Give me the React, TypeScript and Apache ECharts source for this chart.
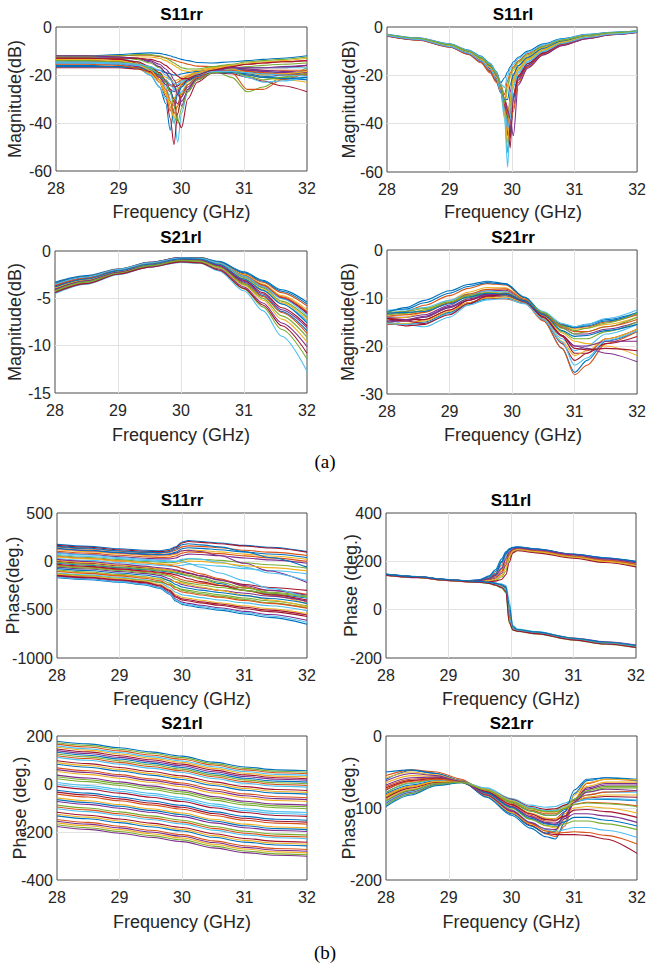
import React, { useEffect, useRef } from "react";
import * as echarts from "echarts";

// MATLAB default line colour order
const COLORS = ["#0072BD", "#D95319", "#EDB120", "#7E2F8E", "#77AC30", "#4DBEEE", "#A2142F"];

const TITLES = ["S11rr", "S11rl", "S21rl", "S21rr", "S11rr", "S11rl", "S21rl", "S21rr"];
const Y_NAMES = [
  "Magnitude(dB)", "Magnitude(dB)", "Magnitude(dB)", "Magnitude(dB)",
  "Phase(deg.)", "Phase (deg.)", "Phase (deg.)", "Phase (deg.)",
];
const X_NAME = "Frequency (GHz)";
const Y_MIN = [-60, -60, -15, -30, -1000, -200, -400, -200];
const Y_MAX = [0, 0, 0, 0, 500, 400, 200, 0];
const Y_STEP = [20, 20, 5, 10, 500, 200, 200, 100];
const X_MIN = 28;
const X_MAX = 32;
const X_STEP = 1;

// ---- (a) S11rr magnitude ----
const F_S11RR_MAG = [28, 28.5, 29, 29.3, 29.5, 29.65, 29.75, 29.82, 29.88, 29.94, 30.0, 30.1, 30.25, 30.5, 30.8, 31.05, 31.3, 31.6, 32];
const S11RR_MAG = [
  [-12, -12, -11.5, -11, -10.8, -11, -11.5, -12, -12.5, -13, -13.5, -14, -14.8, -15, -14.5, -14, -13.5, -13, -12],
  [-13, -12.5, -12, -11.8, -11.8, -12.3, -12.8, -13.3, -13.8, -14.3, -14.8, -15.5, -16.3, -16.5, -16, -15.5, -15, -14.5, -14],
  [-14, -14, -14.5, -15.5, -17, -19, -21, -22, -22.5, -22, -21, -20, -18.5, -17, -17, -18, -19, -19.5, -19],
  [-15, -15, -15.5, -16.5, -18.5, -21, -24, -26, -27, -26, -24, -22, -20, -18, -18, -20, -21, -20, -18],
  [-13, -13, -13.5, -15, -17.5, -22, -27, -33, -40, -36, -29, -24, -20.5, -18, -21, -27, -25, -21, -17],
  [-12, -12.5, -13, -14.5, -17, -20.5, -25, -30, -38, -48, -36, -27, -22, -19, -18, -19, -20, -21, -22],
  [-14, -14, -14.5, -16, -18.5, -23, -29, -38, -49, -36, -29, -24, -21, -18.5, -18, -17, -17, -17, -16],
  [-15, -15, -15.5, -17, -20, -25, -32, -43, -34, -28, -25, -22, -20, -18, -17.5, -18, -18.5, -19, -20],
  [-13, -13, -13.5, -15, -18, -22, -28, -35, -31, -27, -24, -21.5, -19.5, -17.5, -17, -17.5, -18, -18, -18],
  [-16, -16, -16.5, -17.5, -19.5, -23, -28, -33, -38, -32, -27, -23, -20.5, -18.5, -18, -19.5, -21, -22, -23],
  [-14, -14.5, -15, -16, -18, -21, -24, -27, -30, -32, -29, -25, -21.5, -19, -18, -18, -18.5, -19, -19],
  [-12, -12, -12.5, -13.5, -15, -17, -19, -21, -24, -27, -28, -26, -22, -18.5, -17, -16.5, -16, -15.5, -15],
  [-15, -15, -15.5, -17, -20, -25, -30, -28, -26, -24, -22.5, -21, -19.5, -18, -17.5, -17, -17, -17, -17],
  [-17, -17, -17, -17.5, -18.5, -20, -22, -24, -25, -24.5, -23.5, -22, -20.5, -19, -19.5, -21, -22.5, -24.5, -27],
  [-16, -16, -16.5, -17, -17.5, -18, -19, -19.5, -20, -20, -19.5, -19, -18.5, -18, -18.5, -19.5, -20.5, -21.5, -22],
  [-14, -14, -14.5, -16, -18, -20.5, -23, -24.5, -24, -23, -22, -20.5, -19, -17.5, -19, -26, -26, -22, -19],
  [-13.5, -13.5, -13, -12.5, -12.5, -13, -14, -15, -16, -17, -18, -18.5, -18, -17, -16, -15, -14.5, -14, -13],
  [-12.5, -12.5, -12.5, -13, -14, -15.5, -17.5, -19.5, -22, -25, -33, -26, -21, -18, -17, -17.5, -18, -18.5, -19],
  [-12.5, -12.5, -12, -11.5, -11.5, -12, -13, -14, -15, -16, -17, -17.5, -17.5, -16.5, -15.5, -14.5, -14, -13.5, -12.5],
  [-14.5, -14.5, -15, -16, -17.5, -19.5, -22, -24, -26, -28, -27, -24, -21, -18.5, -18.5, -21, -23, -22.5, -21],
  [-13, -13, -13.5, -14.5, -16.5, -19, -22.5, -26, -31, -39, -42, -30, -23, -19, -18, -18.5, -19.5, -20, -20],
  [-16.5, -16.5, -16.5, -17, -18, -20, -23, -27, -30, -28, -25, -22.5, -20.5, -19, -19, -20, -21, -21.5, -21],
  [-15.5, -15.5, -16, -17, -19, -22, -26, -31, -36, -33, -28, -24, -21, -18.5, -18, -18.5, -19, -19.5, -20],
  [-13.5, -13.5, -14, -15.5, -18, -22, -27, -32, -30, -26, -23.5, -21, -19, -17.5, -17.5, -19, -20, -19.5, -18.5],
  [-12, -12, -12.5, -13, -14.5, -16.5, -19, -21.5, -24.5, -28, -31, -27, -22, -18.5, -17, -17, -17, -16.5, -16],
  [-14, -14, -14.5, -15.5, -17, -19.5, -23, -27, -33, -40, -34, -27, -22, -19, -18.5, -20.5, -22, -21, -19.5],
  [-15, -15, -15, -15.5, -16.5, -18, -20, -22, -23.5, -24, -23, -21.5, -20, -18.5, -18.5, -19, -19.5, -20, -20.5],
  [-13, -13, -13, -13, -13.5, -14.5, -16, -17.5, -19, -20.5, -21.5, -21.5, -20, -18, -16.5, -15.5, -15, -14.5, -14],
];

// ---- (a) S11rl magnitude ----
const F_S11RL_MAG = [28, 28.5, 29, 29.3, 29.5, 29.65, 29.75, 29.82, 29.88, 29.93, 29.97, 30.02, 30.1, 30.25, 30.5, 30.8, 31.2, 31.6, 32];
const S11RL_MAG = [
  [-3, -4.5, -7, -9.5, -12, -15, -18.5, -23, -21, -18.5, -16.5, -14.5, -12.5, -10, -7, -4.8, -3, -2.2, -1.6],
  [-3.2, -4.7, -7.2, -9.8, -12.5, -15.5, -19, -24, -28, -22, -19, -16.5, -14, -11, -7.8, -5.2, -3.3, -2.4, -1.7],
  [-3.3, -4.8, -7.4, -10, -12.8, -16, -20, -25, -33, -26, -21, -18, -15, -12, -8.5, -5.6, -3.6, -2.5, -1.8],
  [-3.4, -5, -7.6, -10.3, -13.2, -16.5, -20.5, -26, -34, -45, -27, -20, -16, -12.8, -9, -6, -3.8, -2.7, -1.9],
  [-3.5, -5.1, -7.8, -10.6, -13.5, -17, -21, -27, -36, -52, -33, -22, -17.5, -13.5, -9.5, -6.3, -4, -2.8, -2],
  [-3.6, -5.2, -8, -10.8, -13.8, -17.5, -21.5, -27.5, -38, -58, -36, -24, -18.5, -14.2, -10, -6.6, -4.2, -2.9, -2],
  [-3.5, -5.2, -8, -10.9, -14, -18, -22, -27, -33, -40, -50, -28, -20, -15, -10.5, -7, -4.4, -3, -2.1],
  [-3.7, -5.4, -8.2, -11.2, -14.4, -18.5, -22.5, -27, -31, -35, -44, -30, -21, -15.8, -11, -7.3, -4.6, -3.1, -2.2],
  [-3.8, -5.5, -8.3, -11.4, -14.8, -19, -23, -27, -30, -33, -36, -28, -21.5, -16.5, -11.5, -7.6, -4.8, -3.2, -2.3],
  [-3.3, -4.9, -7.5, -10.2, -13, -16.2, -20, -24, -29, -38, -30, -23, -18, -13.5, -9.5, -6.4, -4, -2.8, -2],
  [-3.6, -5.3, -8.1, -11, -14.2, -18, -22, -26, -30, -34, -42, -33, -22, -16, -11, -7.2, -4.5, -3, -2.1],
  [-3.4, -5, -7.7, -10.5, -13.5, -17, -21, -26, -30, -40, -31, -21, -17, -13, -9.2, -6.2, -3.9, -2.7, -1.9],
  [-3.1, -4.6, -7.1, -9.6, -12.2, -15.2, -18.8, -23.5, -25, -20, -17.5, -15.5, -13, -10.5, -7.4, -5, -3.1, -2.3, -1.6],
  [-3.5, -5.1, -7.9, -10.7, -13.7, -17.2, -21.2, -26.5, -32, -37, -46, -29, -20.5, -15.2, -10.7, -7.1, -4.5, -3, -2.1],
  [-3.3, -4.9, -7.5, -10.1, -12.9, -16.1, -19.8, -24.5, -30, -30, -24, -19.5, -16, -12.5, -8.8, -5.8, -3.7, -2.6, -1.8],
  [-3.7, -5.4, -8.2, -11.1, -14.3, -18.2, -22.2, -26.8, -31, -36, -40, -35, -23, -16.5, -11.3, -7.5, -4.7, -3.1, -2.2],
  [-3.4, -5, -7.7, -10.4, -13.3, -16.8, -20.8, -26, -35, -48, -30, -21.5, -17, -13.2, -9.3, -6.2, -3.9, -2.7, -1.9],
  [-3.6, -5.3, -8.1, -11, -14.1, -17.8, -21.8, -26.5, -30.5, -34.5, -38, -45, -24, -17, -11.6, -7.7, -4.8, -3.2, -2.3],
  [-3.2, -4.7, -7.3, -9.9, -12.6, -15.7, -19.4, -24.5, -31, -24, -20, -17.2, -14.5, -11.5, -8.1, -5.4, -3.4, -2.4, -1.7],
  [-3.5, -5.2, -8, -10.8, -13.9, -17.6, -21.6, -27, -34, -42, -38, -25, -19, -14.6, -10.2, -6.8, -4.3, -2.9, -2],
];

// ---- (a) S21rl magnitude ----
const F_S21RL_MAG = [28, 28.5, 29, 29.5, 30, 30.3, 30.6, 31, 31.3, 31.6, 32];
const S21RL_MAG = [
  [-3.3, -2.6, -1.9, -1.2, -0.7, -0.7, -1.1, -2.2, -3.1, -4.1, -5.4],
  [-3.4, -2.7, -1.9, -1.2, -0.7, -0.7, -1.2, -2.4, -3.3, -4.4, -5.8],
  [-3.6, -2.8, -2, -1.3, -0.75, -0.75, -1.2, -2.5, -3.5, -4.7, -6.2],
  [-3.5, -2.8, -2, -1.2, -0.7, -0.8, -1.3, -2.7, -3.8, -5, -6.6],
  [-3.8, -3, -2.1, -1.4, -0.8, -0.8, -1.3, -2.8, -3.9, -5.3, -7],
  [-3.9, -3, -2.2, -1.4, -0.85, -0.9, -1.4, -3, -4.2, -5.6, -7.4],
  [-4, -3.1, -2.2, -1.5, -0.9, -0.9, -1.5, -3.1, -4.4, -6, -7.9],
  [-4.1, -3.2, -2.3, -1.5, -0.9, -1, -1.6, -3.3, -4.7, -6.4, -8.4],
  [-4.2, -3.3, -2.3, -1.6, -1, -1, -1.6, -3.4, -4.8, -6.5, -8.7],
  [-4.3, -3.3, -2.4, -1.6, -1, -1.1, -1.8, -3.6, -5.2, -7.2, -9.6],
  [-4.4, -3.4, -2.4, -1.7, -1.1, -1.2, -1.9, -3.8, -5.5, -7.6, -10.1],
  [-4.3, -3.3, -2.4, -1.6, -1.1, -1.2, -2, -4, -5.9, -8.3, -11.4],
  [-4.5, -3.5, -2.5, -1.7, -1.2, -1.3, -2.1, -4.2, -6.3, -9, -12.7],
  [-3.7, -2.9, -2, -1.3, -0.8, -0.8, -1.3, -2.6, -3.6, -4.9, -6.5],
  [-3.4, -2.7, -1.95, -1.25, -0.72, -0.72, -1.15, -2.3, -3.2, -4.25, -5.6],
  [-3.6, -2.85, -2.05, -1.3, -0.78, -0.78, -1.25, -2.6, -3.65, -4.85, -6.4],
  [-3.9, -3.05, -2.15, -1.45, -0.85, -0.85, -1.35, -2.9, -4.05, -5.45, -7.2],
  [-4.1, -3.15, -2.25, -1.5, -0.92, -0.95, -1.55, -3.2, -4.55, -6.2, -8.1],
  [-4.2, -3.25, -2.35, -1.55, -0.98, -1.05, -1.7, -3.5, -5, -6.85, -9.1],
  [-3.5, -2.75, -1.95, -1.25, -0.75, -0.78, -1.25, -2.65, -3.75, -5.05, -6.8],
  [-4.4, -3.45, -2.45, -1.7, -1.15, -1.25, -2, -3.95, -5.7, -7.9, -10.8],
  [-3.8, -2.95, -2.1, -1.4, -0.82, -0.85, -1.4, -2.95, -4.15, -5.6, -7.6],
];

// ---- (a) S21rr magnitude ----
const F_S21RR_MAG = [28, 28.3, 28.6, 29, 29.3, 29.6, 29.9, 30.2, 30.5, 30.8, 31, 31.2, 31.5, 32];
const S21RR_MAG = [
  [-13, -12, -10.5, -8.5, -7.2, -6.5, -7, -9.8, -13.2, -15.5, -16, -15.5, -14.5, -13],
  [-13.5, -12.8, -11.5, -9.5, -8, -7, -7.3, -10, -13.4, -15.6, -16.3, -16, -15, -13.5],
  [-14, -13.5, -12.5, -10.5, -8.8, -7.8, -7.9, -10.2, -13.3, -15.8, -16.5, -16.3, -15.5, -14],
  [-14, -14, -13.5, -11.5, -9.5, -8.5, -8.4, -10.4, -13.6, -16.2, -17.5, -17.5, -16.5, -15],
  [-14.5, -14.5, -14, -12, -10, -8.8, -8.7, -10.5, -13.8, -17, -18.5, -18.5, -17, -15],
  [-14, -15.5, -16, -14, -11.5, -9.5, -9.1, -10.6, -14.2, -18.5, -21, -20, -17.5, -15.5],
  [-15, -15.8, -15.5, -13, -11, -9.8, -9.5, -10.8, -14.4, -19.5, -23, -21.5, -18.5, -16.5],
  [-15, -15.5, -15, -13, -11.2, -10.2, -10, -11, -14.6, -20.5, -25.5, -23, -19, -17],
  [-15.5, -15.5, -14.5, -12.5, -11, -10, -10.2, -11.1, -14.8, -20.5, -26, -24, -19.5, -17],
  [-14.5, -14, -13, -11, -9.5, -8.8, -9, -10.6, -13.8, -17.3, -19, -19.5, -20, -22],
  [-15, -14.8, -14, -12, -10.5, -9.5, -9.5, -10.9, -14.1, -17.8, -20, -20.5, -21.5, -23.3],
  [-13.5, -13.2, -12.5, -11, -9.8, -9.2, -9.4, -10.7, -13.2, -16.3, -17.5, -17, -16, -14],
  [-12.5, -12.5, -12, -10.5, -9.2, -8.5, -8.8, -10.5, -12.8, -15.3, -16, -15.5, -14.3, -12.5],
  [-14.2, -14.5, -14.5, -12.5, -10.5, -9.2, -9, -10.6, -14, -18, -21.5, -21.5, -19.5, -18],
  [-12.8, -12.3, -11, -9, -7.6, -6.8, -7.1, -9.9, -13.3, -15.7, -16.2, -15.8, -14.8, -13.2],
  [-13.8, -13.5, -13, -11, -9.2, -8.2, -8.1, -10.3, -13.4, -16, -17, -17, -16, -14.5],
  [-15.2, -15.3, -14.8, -12.8, -11, -9.9, -9.8, -10.9, -14.3, -19, -22, -21, -18.5, -16.5],
  [-14.8, -14.5, -13.8, -11.8, -10.2, -9.3, -9.3, -10.8, -14, -17.8, -20, -20, -19, -19],
  [-13, -12.8, -12.2, -10.8, -9.5, -8.9, -9.1, -10.6, -13, -15.8, -16.8, -16.3, -15.2, -13.2],
  [-15.3, -15.5, -15.2, -13.2, -11.5, -10.4, -10.1, -11.2, -14.5, -19.2, -24, -22.5, -18.8, -16.8],
  [-14.3, -14.8, -15.3, -13.5, -11.2, -9.6, -9.2, -10.6, -13.9, -17.8, -20.5, -20.8, -20.5, -21],
  [-13.2, -13, -12.8, -11.2, -9.8, -9, -9.2, -10.6, -13.5, -16.8, -18, -17.8, -16.8, -15.5],
];

// ---- (b) S11rr phase ----
const F_S11RR_PH = [28, 28.5, 29, 29.4, 29.65, 29.8, 29.9, 30.0, 30.1, 30.3, 30.6, 31, 31.4, 32];
const S11RR_PH = [
  [175, 155, 130, 115, 110, 125, 150, 200, 215, 205, 190, 165, 145, 100],
  [150, 128, 105, 90, 85, 95, 115, 150, 160, 155, 140, 115, 95, 60],
  [120, 100, 78, 62, 55, 60, 75, 105, 118, 112, 98, 75, 55, 20],
  [90, 70, 48, 32, 25, 25, 35, 60, 75, 70, 58, 35, 15, -20],
  [60, 40, 18, 0, -10, -15, -10, 10, 25, 22, 10, -15, -35, -70],
  [30, 10, -12, -30, -42, -50, -50, -40, -30, -35, -50, -75, -95, -130],
  [0, -20, -45, -65, -80, -90, -100, -112, -125, -150, -190, -240, -270, -300],
  [-20, -40, -65, -85, -100, -110, -120, -135, -150, -180, -230, -300, -340, -380],
  [50, 30, 5, -15, -30, -40, -55, -75, -95, -130, -180, -260, -330, -420],
  [10, -12, -38, -60, -78, -90, -105, -125, -145, -185, -245, -300, -350, -440],
  [-60, -80, -105, -125, -145, -180, -215, -240, -255, -275, -300, -330, -360, -410],
  [-90, -110, -135, -160, -185, -225, -265, -290, -300, -320, -345, -380, -410, -460],
  [-120, -140, -165, -190, -220, -270, -320, -345, -355, -375, -400, -430, -460, -510],
  [-150, -170, -195, -220, -255, -310, -370, -400, -410, -430, -455, -490, -520, -570],
  [-170, -190, -215, -245, -280, -340, -410, -445, -460, -480, -505, -545, -580, -650],
  [-40, -60, -85, -105, -120, -140, -165, -190, -205, -225, -250, -275, -300, -340],
  [-100, -120, -145, -165, -180, -195, -210, -225, -240, -265, -300, -350, -400, -470],
  [130, 110, 88, 72, 65, 70, 85, 110, 115, 100, 60, -20, -100, -220],
  [-130, -150, -175, -195, -215, -240, -270, -300, -315, -335, -360, -395, -430, -480],
  [70, 50, 28, 10, 0, -5, 0, 20, 30, 20, -10, -60, -120, -200],
  [165, 145, 120, 105, 100, 112, 140, 190, 205, 196, 182, 158, 138, 95],
  [135, 114, 92, 77, 70, 78, 95, 130, 140, 134, 120, 96, 76, 40],
  [105, 85, 63, 47, 40, 42, 55, 85, 98, 92, 80, 56, 36, 0],
  [45, 25, 3, -15, -26, -32, -28, -12, 2, 0, -18, -45, -65, -100],
  [20, -2, -28, -50, -66, -76, -88, -102, -118, -150, -195, -250, -300, -350],
  [-10, -32, -58, -78, -93, -103, -114, -128, -143, -170, -215, -275, -320, -360],
  [85, 65, 40, 22, 10, 5, 0, -5, -20, -60, -120, -200, -280, -380],
  [-30, -52, -78, -98, -113, -125, -140, -160, -180, -210, -250, -300, -345, -400],
  [-75, -95, -120, -142, -165, -202, -240, -265, -278, -298, -322, -355, -385, -435],
  [-105, -125, -150, -175, -202, -248, -292, -318, -328, -348, -372, -405, -435, -485],
  [-135, -155, -180, -205, -238, -290, -345, -372, -382, -402, -428, -460, -490, -540],
  [-160, -180, -205, -232, -268, -325, -390, -422, -435, -455, -480, -518, -550, -610],
  [-50, -70, -95, -115, -132, -155, -185, -210, -225, -245, -270, -300, -330, -370],
  [-165, -185, -210, -238, -274, -332, -400, -435, -448, -468, -492, -530, -565, -630],
  [-145, -165, -190, -214, -248, -300, -358, -388, -398, -418, -442, -475, -505, -555],
  [155, 135, 110, 95, 90, 102, 128, 172, 182, 170, 150, 100, 40, -60],
];

// ---- (b) S11rl phase ----
const F_S11RL_PH = [28, 28.5, 29, 29.3, 29.5, 29.65, 29.75, 29.85, 29.92, 29.97, 30.03, 30.1, 30.4, 31, 31.5, 32];
const S11RL_PH = [
  [147, 137, 125, 120, 125, 140, 165, 210, 240, 252, 258, 260, 252, 230, 215, 200],
  [146, 136, 124, 119, 122, 132, 150, 185, 225, 245, 255, 257, 250, 228, 212, 197],
  [145, 135, 123, 118, 120, 127, 140, 165, 205, 235, 250, 254, 246, 225, 208, 192],
  [144, 134, 122, 117, 118, 122, 130, 150, 185, 225, 245, 250, 242, 220, 203, 187],
  [143, 133, 121, 116, 116, 118, 122, 135, 160, 210, 240, 247, 238, 216, 198, 180],
  [145, 135, 123, 118, 119, 124, 135, 175, 220, 242, 252, 255, 248, 226, 210, 195],
  [142, 132, 120, 115, 115, 116, 118, 125, 145, 195, 235, 244, 235, 213, 195, 177],
  [146, 136, 124, 119, 121, 129, 145, 195, 232, 248, 256, 258, 251, 229, 214, 199],
  [145, 135, 123, 118, 116, 112, 108, 100, 90, -20, -78, -85, -95, -120, -137, -150],
  [144, 134, 122, 117, 114, 110, 104, 95, 80, -40, -82, -88, -98, -124, -141, -154],
  [146, 136, 124, 119, 117, 114, 110, 105, 95, 0, -75, -83, -93, -117, -133, -146],
  [143, 133, 121, 116, 113, 108, 100, 90, 70, -55, -85, -90, -100, -126, -143, -157],
  [145, 135, 123, 118, 116, 113, 110, 106, 100, 40, -65, -80, -91, -119, -136, -149],
  [144, 134, 122, 117, 115, 111, 106, 98, 85, -30, -80, -87, -97, -122, -139, -152],
  [146, 136, 124, 119, 123, 136, 158, 200, 236, 250, 257, 259, 251, 229, 213, 198],
  [144, 134, 122, 117, 119, 125, 135, 158, 195, 230, 248, 252, 244, 222, 205, 189],
  [143, 133, 121, 116, 117, 120, 126, 142, 172, 218, 243, 249, 240, 218, 200, 183],
  [145, 135, 123, 118, 120, 128, 142, 170, 212, 238, 251, 255, 247, 227, 210, 194],
  [145, 135, 123, 118, 116, 112, 107, 97, 85, -10, -77, -84, -94, -119, -136, -150],
  [144, 134, 122, 117, 115, 111, 105, 96, 82, -35, -81, -87, -97, -123, -140, -153],
  [143, 133, 121, 116, 114, 109, 102, 92, 75, -50, -84, -89, -99, -125, -142, -156],
  [146, 136, 124, 119, 117, 113, 109, 103, 92, 20, -70, -82, -92, -118, -134, -148],
];

// ---- (b) S21rl phase ----
const F_S21RL_PH = [28, 28.5, 29, 29.5, 30, 30.5, 31, 31.5, 32];
const S21RL_PH = [
  [178, 167, 151, 134, 116, 91, 71, 59, 55],
  [166, 154, 138, 121, 103, 79, 59, 47, 43],
  [153, 141, 125, 108, 90, 65, 45, 33, 29],
  [139, 127, 111, 94, 76, 51, 31, 20, 16],
  [125, 113, 97, 80, 62, 37, 17, 5, 1],
  [111, 99, 83, 66, 48, 23, 3, -9, -13],
  [97, 85, 69, 52, 34, 9, -11, -23, -27],
  [82, 70, 54, 37, 19, -6, -26, -38, -42],
  [67, 55, 39, 22, 4, -21, -41, -53, -57],
  [52, 40, 24, 7, -11, -37, -57, -69, -73],
  [37, 25, 9, -8, -26, -52, -72, -84, -88],
  [22, 10, -6, -23, -41, -67, -87, -99, -103],
  [6, -6, -22, -39, -57, -83, -103, -115, -119],
  [-10, -22, -38, -55, -73, -99, -119, -131, -135],
  [-26, -38, -54, -71, -89, -115, -135, -147, -151],
  [-42, -54, -70, -87, -105, -131, -151, -163, -167],
  [-58, -70, -86, -103, -121, -147, -167, -179, -183],
  [-73, -85, -101, -118, -136, -162, -182, -194, -198],
  [-88, -100, -116, -133, -151, -177, -197, -209, -213],
  [-103, -115, -131, -148, -166, -192, -212, -224, -228],
  [-118, -130, -146, -163, -181, -207, -227, -239, -243],
  [-133, -145, -161, -178, -196, -222, -242, -254, -258],
  [-148, -160, -176, -193, -211, -237, -257, -269, -273],
  [-162, -174, -190, -207, -225, -251, -271, -283, -287],
  [-177, -189, -205, -222, -240, -266, -286, -297, -301],
  [172, 161, 145, 128, 110, 85, 65, 53, 49],
  [159, 147, 131, 114, 96, 72, 52, 40, 36],
  [146, 134, 118, 101, 83, 58, 38, 26, 22],
  [132, 120, 104, 87, 69, 44, 24, 12, 8],
  [118, 106, 90, 73, 55, 30, 10, -2, -6],
  [89, 77, 61, 44, 26, 1, -19, -31, -35],
  [60, 48, 32, 15, -3, -29, -49, -61, -65],
  [30, 18, 2, -15, -33, -59, -79, -91, -95],
  [-2, -14, -30, -47, -65, -91, -111, -123, -127],
  [-34, -46, -62, -79, -97, -123, -143, -155, -159],
  [-65, -77, -93, -110, -128, -154, -174, -186, -190],
  [-96, -108, -124, -141, -159, -185, -205, -217, -221],
  [-126, -138, -154, -171, -189, -215, -235, -247, -251],
  [-155, -167, -183, -200, -218, -244, -264, -276, -280],
  [-170, -182, -198, -215, -233, -259, -279, -291, -295],
];

// ---- (b) S21rr phase ----
const F_S21RR_PH = [28, 28.4, 28.8, 29.2, 29.6, 30, 30.3, 30.55, 30.7, 30.85, 31, 31.2, 31.5, 32];
const S21RR_PH = [
  [-60, -48, -52, -62, -85, -110, -128, -140, -143, -120, -80, -62, -58, -60],
  [-55, -47, -50, -60, -82, -107, -124, -136, -140, -125, -88, -66, -60, -62],
  [-65, -55, -56, -63, -80, -100, -115, -125, -128, -118, -88, -70, -64, -64],
  [-75, -62, -58, -62, -76, -95, -108, -115, -115, -105, -88, -74, -68, -68],
  [-85, -70, -62, -63, -74, -90, -100, -104, -103, -96, -88, -78, -72, -72],
  [-95, -80, -68, -64, -72, -87, -96, -99, -98, -93, -88, -82, -78, -78],
  [-90, -76, -66, -64, -74, -88, -98, -102, -101, -96, -90, -86, -84, -85],
  [-80, -68, -62, -64, -76, -93, -104, -110, -110, -102, -92, -88, -88, -90],
  [-70, -60, -58, -63, -78, -96, -110, -118, -118, -108, -95, -92, -93, -97],
  [-88, -74, -65, -64, -76, -94, -107, -114, -115, -108, -100, -98, -100, -107],
  [-93, -78, -67, -64, -78, -98, -112, -120, -121, -115, -108, -108, -111, -120],
  [-96, -80, -68, -65, -80, -100, -116, -124, -126, -122, -118, -118, -122, -130],
  [-78, -66, -61, -63, -80, -102, -120, -130, -133, -130, -127, -127, -131, -141],
  [-72, -62, -59, -63, -82, -105, -124, -135, -137, -137, -137, -138, -143, -163],
  [-50, -47, -52, -62, -84, -108, -125, -135, -132, -105, -75, -60, -58, -62],
  [-82, -70, -63, -64, -75, -92, -103, -108, -108, -100, -90, -82, -78, -76],
  [-58, -50, -54, -62, -83, -106, -122, -132, -134, -112, -82, -65, -60, -61],
  [-68, -58, -57, -63, -79, -98, -112, -121, -123, -112, -90, -72, -66, -66],
  [-78, -65, -60, -63, -75, -92, -104, -110, -110, -100, -88, -76, -70, -70],
  [-92, -77, -66, -64, -73, -89, -99, -104, -104, -98, -91, -88, -87, -89],
  [-86, -72, -64, -64, -77, -95, -108, -116, -117, -111, -103, -102, -105, -113],
  [-98, -82, -69, -65, -79, -99, -114, -122, -124, -119, -113, -113, -117, -125],
  [-74, -63, -60, -63, -81, -103, -121, -132, -135, -134, -133, -134, -138, -150],
  [-83, -70, -63, -64, -74, -90, -101, -106, -106, -99, -91, -85, -82, -82],
  [-62, -52, -55, -63, -82, -104, -120, -129, -130, -115, -92, -78, -74, -76],
  [-90, -75, -66, -64, -75, -91, -101, -105, -105, -101, -95, -93, -94, -98],
];

const PANEL_FREQ = [F_S11RR_MAG, F_S11RL_MAG, F_S21RL_MAG, F_S21RR_MAG, F_S11RR_PH, F_S11RL_PH, F_S21RL_PH, F_S21RR_PH];
const PANEL_CURVES = [S11RR_MAG, S11RL_MAG, S21RL_MAG, S21RR_MAG, S11RR_PH, S11RL_PH, S21RL_PH, S21RR_PH];

// ---- layout (pixels) ----
const LAYOUT = [
  { left: 56, top: 27, width: 251, height: 144, titleY: 14, xNameY: 212, yNameX: 15 },
  { left: 387, top: 27, width: 252, height: 145, titleY: 14, xNameY: 212, yNameX: 349 },
  { left: 55, top: 251, width: 252, height: 142, titleY: 237, xNameY: 435, yNameX: 15 },
  { left: 387, top: 250, width: 252, height: 144, titleY: 237, xNameY: 435, yNameX: 348 },
  { left: 57, top: 513, width: 250, height: 145, titleY: 500, xNameY: 699, yNameX: 13 },
  { left: 386, top: 513, width: 250, height: 145, titleY: 500, xNameY: 699, yNameX: 351 },
  { left: 57, top: 736, width: 250, height: 144, titleY: 723, xNameY: 922, yNameX: 20 },
  { left: 386, top: 736, width: 251, height: 144, titleY: 723, xNameY: 922, yNameX: 349 },
];
const SUB_LABELS = [
  { text: "(a)", x: 325, y: 461 },
  { text: "(b)", x: 325, y: 952 },
];

const SANS = '"Liberation Sans", Arial, Helvetica, sans-serif';
const SERIF = '"Liberation Serif", "Times New Roman", serif';
const AXIS_COLOR = "#262626";
const GRID_COLOR = "#e2e2e2";

export default function App() {
  const ref = useRef<HTMLDivElement>(null);

  useEffect(() => {
    if (!ref.current) return;
    const chart = echarts.init(ref.current, null, { renderer: "svg" });

    const grids = LAYOUT.map((l) => ({
      left: l.left,
      top: l.top,
      width: l.width,
      height: l.height,
      show: true,
      borderColor: "#4a4a4a",
      borderWidth: 1,
      backgroundColor: "transparent",
    }));

    const xAxes = LAYOUT.map((_, i) => ({
      type: "value",
      gridIndex: i,
      min: X_MIN,
      max: X_MAX,
      interval: X_STEP,
      axisLine: { show: false },
      axisTick: { show: false },
      splitLine: { show: true, showMinLine: false, showMaxLine: false, lineStyle: { color: GRID_COLOR, width: 1 } },
      axisLabel: { fontSize: 16, color: AXIS_COLOR, margin: 9, fontFamily: SANS, formatter: (v: number) => String(v) },
    }));

    const yAxes = LAYOUT.map((_, i) => ({
      type: "value",
      gridIndex: i,
      min: Y_MIN[i],
      max: Y_MAX[i],
      interval: Y_STEP[i],
      axisLine: { show: false },
      axisTick: { show: false },
      splitLine: { show: true, showMinLine: false, showMaxLine: false, lineStyle: { color: GRID_COLOR, width: 1 } },
      axisLabel: { fontSize: 16, color: AXIS_COLOR, margin: 4, fontFamily: SANS, formatter: (v: number) => String(v) },
    }));

    const series: any[] = [];
    PANEL_CURVES.forEach((curves, p) => {
      const freq = PANEL_FREQ[p];
      curves.forEach((c, k) => {
        series.push({
          type: "line",
          xAxisIndex: p,
          yAxisIndex: p,
          data: freq.map((f, j) => [f, c[j]]),
          showSymbol: false,
          symbol: "none",
          smooth: 0.3,
          smoothMonotone: "x",
          silent: true,
          lineStyle: { width: 1.1, color: COLORS[k % COLORS.length] },
        });
      });
    });

    const graphics: any[] = [];
    LAYOUT.forEach((l, i) => {
      const cx = l.left + l.width / 2;
      graphics.push({
        type: "text",
        x: cx,
        y: l.titleY,
        style: {
          text: TITLES[i],
          font: `bold 17px ${SANS}`,
          fill: "#000",
          align: "center",
          verticalAlign: "middle",
        },
      });
      graphics.push({
        type: "text",
        x: cx,
        y: l.xNameY,
        style: {
          text: X_NAME,
          font: `18px ${SANS}`,
          fill: AXIS_COLOR,
          align: "center",
          verticalAlign: "middle",
        },
      });
      graphics.push({
        type: "text",
        x: l.yNameX,
        y: l.top + l.height / 2,
        rotation: Math.PI / 2,
        style: {
          text: Y_NAMES[i],
          font: `18px ${SANS}`,
          fill: AXIS_COLOR,
          align: "center",
          verticalAlign: "middle",
        },
      });
    });
    SUB_LABELS.forEach((s) => {
      graphics.push({
        type: "text",
        x: s.x,
        y: s.y,
        style: {
          text: s.text,
          font: `19px ${SERIF}`,
          fill: "#000",
          align: "center",
          verticalAlign: "middle",
        },
      });
    });

    chart.setOption({
      animation: false,
      backgroundColor: "#ffffff",
      grid: grids,
      xAxis: xAxes,
      yAxis: yAxes,
      series,
      graphic: graphics,
    });

    return () => chart.dispose();
  }, []);

  return (
    <div
      ref={ref}
      style={{ position: "absolute", left: 0, top: 0, width: 649, height: 967 }}
    />
  );
}
